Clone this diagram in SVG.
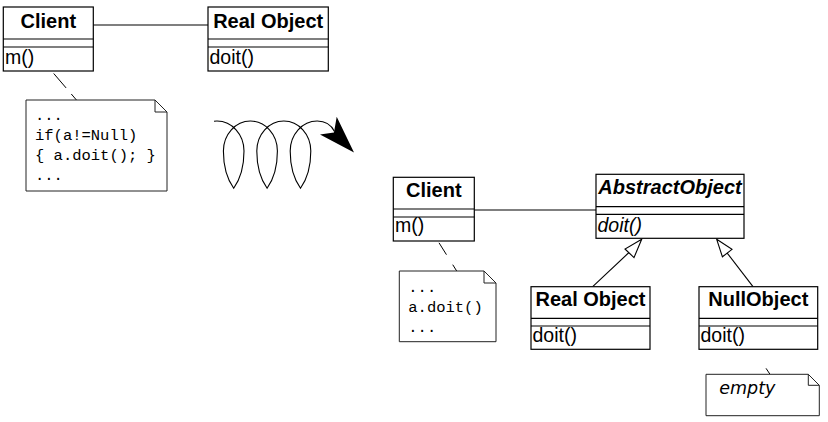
<svg xmlns="http://www.w3.org/2000/svg" width="828" height="422" viewBox="0 0 828 422">
<style>
.box{fill:#fff;stroke:#000;stroke-width:1.2}
.sep{stroke:#000;stroke-width:1.2;fill:none}
.note{fill:#fff;stroke:#222;stroke-width:1}
.fold{fill:none;stroke:#222;stroke-width:1}
.title{font-family:"Liberation Sans",Arial,sans-serif;font-weight:bold;font-size:20px;text-anchor:middle;fill:#000}
.meth{font-family:"Liberation Sans",Arial,sans-serif;font-size:19.5px;fill:#000}
.code{font-family:"Liberation Mono","Courier New",monospace;font-size:15.5px;fill:#000}
.line{stroke:#000;stroke-width:1.1;fill:none}
.dash{stroke:#000;stroke-width:1;fill:none}
.tri{fill:#fff;stroke:#000;stroke-width:1.1}
</style>
<rect width="828" height="422" fill="#fff"/>

<g id="connectors">
  <line class="line" x1="93" y1="25" x2="208" y2="25"/>
  <line class="dash" x1="40.7" y1="58.3" x2="77.3" y2="101" stroke-dasharray="7 13 19 8 12"/>
  <line class="line" x1="474.3" y1="210" x2="596" y2="210"/>
  <line class="dash" x1="428.3" y1="225.7" x2="456.7" y2="271" stroke-dasharray="5.5 14.7 14 11.8 9"/>
  <line class="dash" x1="748.3" y1="341.7" x2="770" y2="374.3" stroke-dasharray="6 26 10"/>
  <line class="line" x1="592.7" y1="286.7" x2="629.5" y2="252"/>
  <polygon class="tri" points="641.7,239.3 625,249 634,257.6"/>
  <line class="line" x1="753" y1="286.7" x2="727" y2="252.8"/>
  <polygon class="tri" points="716.7,239.3 732,249.4 722.4,256.8"/>
</g>

<g id="transform-arrow">
  <path class="line" d="M214,121.3 C215,121.1 216,121 217,121 C231.9,121 244,134.4 244,151 C244,166 241,178 233.7,188.3 C226.4,178 223.4,166 223.4,151 C223.4,134.4 235.5,121 250.4,121 C265.3,121 277.4,134.4 277.4,151 C277.4,166 274.4,178 267.1,188.3 C259.8,178 256.8,166 256.8,151 C256.8,134.4 268.9,121 283.8,121 C298.7,121 310.8,134.4 310.8,151 C310.8,166 307.8,178 300.5,188.3 C293.2,178 290.2,166 290.2,151 C290.2,134.4 302.3,121 317.2,121 C326,121 331.5,125.5 334.5,131.5"/>
  <polygon points="336.7,116.7 354,152.5 320,134.5 334,132.5" fill="#000"/>
</g>

<g id="client-left">
  <rect class="box" x="3.3" y="7" width="90" height="64"/>
  <line class="sep" x1="3.3" y1="39" x2="93.3" y2="39"/>
  <line class="sep" x1="3.3" y1="47" x2="93.3" y2="47"/>
  <text class="title" x="48.3" y="27.5">Client</text>
  <text class="meth" x="5" y="64">m()</text>
</g>

<g id="realobject-left">
  <rect class="box" x="208" y="7" width="120.3" height="64"/>
  <line class="sep" x1="208" y1="39" x2="328.3" y2="39"/>
  <line class="sep" x1="208" y1="47" x2="328.3" y2="47"/>
  <text class="title" x="268.2" y="27.5">Real Object</text>
  <text class="meth" x="209.5" y="64">doit()</text>
</g>

<g id="note-left">
  <path class="note" d="M26,100 H155 L167,112 V191 H26 Z"/>
  <path class="fold" d="M155,100 V112 H167"/>
  <text class="code" x="35" y="119.5">...</text>
  <text class="code" x="35" y="139.5">if(a!=Null)</text>
  <text class="code" x="35" y="159.5">{ a.doit(); }</text>
  <text class="code" x="35" y="179.5">...</text>
</g>

<g id="client-right">
  <rect class="box" x="393.3" y="177.3" width="81" height="63.7"/>
  <line class="sep" x1="393.3" y1="209" x2="474.3" y2="209"/>
  <line class="sep" x1="393.3" y1="217" x2="474.3" y2="217"/>
  <text class="title" x="433.8" y="197">Client</text>
  <text class="meth" x="395" y="232">m()</text>
</g>

<g id="note-right">
  <path class="note" d="M399.3,271 H484 L496,283 V341.7 H399.3 Z"/>
  <path class="fold" d="M484,271 V283 H496"/>
  <text class="code" x="408.3" y="291.5">...</text>
  <text class="code" x="408.3" y="311.5">a.doit()</text>
  <text class="code" x="408.3" y="331.5">...</text>
</g>

<g id="abstractobject">
  <rect class="box" x="596" y="174.3" width="148" height="64"/>
  <line class="sep" x1="596" y1="206.7" x2="744" y2="206.7"/>
  <line class="sep" x1="596" y1="214.3" x2="744" y2="214.3"/>
  <text class="title" x="670" y="193.5" font-style="italic">AbstractObject</text>
  <text class="meth" x="597.5" y="231.7" font-style="italic">doit()</text>
</g>

<g id="realobject-right">
  <rect class="box" x="531" y="286.7" width="119" height="62.6"/>
  <line class="sep" x1="531" y1="318.3" x2="650" y2="318.3"/>
  <line class="sep" x1="531" y1="326" x2="650" y2="326"/>
  <text class="title" x="590.5" y="305.5">Real Object</text>
  <text class="meth" x="532.5" y="342">doit()</text>
</g>

<g id="nullobject">
  <rect class="box" x="699" y="286.7" width="118.7" height="62.6"/>
  <line class="sep" x1="699" y1="318.3" x2="817.7" y2="318.3"/>
  <line class="sep" x1="699" y1="326" x2="817.7" y2="326"/>
  <text class="title" x="758.3" y="305.5">NullObject</text>
  <text class="meth" x="700.5" y="342">doit()</text>
</g>

<g id="note-empty">
  <path class="note" d="M706,374.3 H808.3 L819.3,385.3 V415.7 H706 Z"/>
  <path class="fold" d="M808.3,374.3 V385.3 H819.3"/>
  <text x="719.3" y="394" font-family="'DejaVu Sans',sans-serif" font-style="italic" font-size="17.5" fill="#000">empty</text>
</g>
</svg>
